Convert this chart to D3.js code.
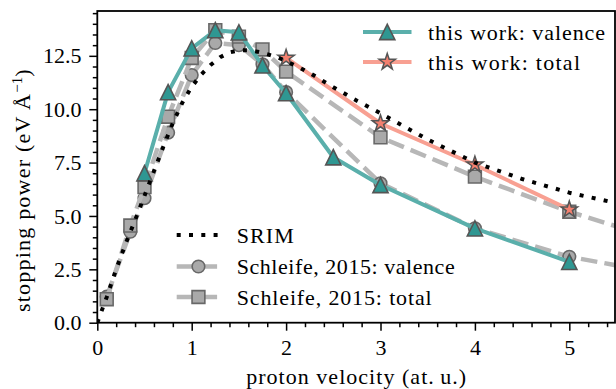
<!DOCTYPE html>
<html>
<head>
<meta charset="utf-8">
<script src="https://cdn.jsdelivr.net/npm/d3@7"></script>
<style>
  body { margin: 0; background: #fff; }
  svg { display: block; }
</style>
</head>
<body>
<svg id="chart" width="616" height="389"></svg>
<script>
// Proton velocity (at. u.) and electronic stopping power (eV/Å)
const workV = [0.5, 0.75, 1.0, 1.25, 1.5, 1.75, 2.0, 2.5, 3.0, 4.0, 5.0];
const workValence = [7.0, 10.8, 12.85, 13.7, 13.6, 12.05, 10.75, 7.75, 6.45, 4.42, 2.85];
const workTotalV = [2.0, 3.0, 4.0, 5.0];
const workTotal = [12.4, 9.33, 7.4, 5.3];
const schleifeV = [0.1, 0.35, 0.5, 0.75, 1.0, 1.25, 1.5, 1.75, 2.0, 3.0, 4.0, 5.0, 6.0];
const schleifeValence = [1.22, 4.26, 5.83, 8.9, 11.6, 13.1, 13.0, 12.1, 10.8, 6.53, 4.42, 3.09, 2.28];
const schleifeTotal = [1.1, 4.55, 6.35, 9.65, 12.4, 13.7, 13.4, 12.8, 11.76, 8.68, 6.84, 5.2, 3.82];
const srimV = [0, 0.1, 0.2, 0.3, 0.4, 0.5, 0.6, 0.7, 0.8, 0.9, 1.0, 1.1, 1.2, 1.3, 1.4, 1.5,
               1.6, 1.7, 1.8, 1.9, 2.0, 2.25, 2.5, 2.75, 3.0, 3.5, 4.0, 4.5, 5.0, 5.5];
const srimS = [0, 1.2, 2.5, 3.7, 4.8, 5.95, 7.1, 8.25, 9.35, 10.3, 11.05, 11.62, 12.07, 12.43, 12.66, 12.76,
               12.76, 12.69, 12.58, 12.44, 12.26, 11.7, 11.03, 10.4, 9.81, 8.58, 7.5, 6.73, 6.09, 5.6];
const xTickValues = [0, 1, 2, 3, 4, 5];
const yTickValues = [0, 2.5, 5, 7.5, 10, 12.5];

const FONT = '"Liberation Serif", "Tinos", "Times New Roman", serif';
const svg = d3.select("#chart");
const m = { left: 97.3, right: 615, top: 11, bottom: 322.7 };

const x = d3.scaleLinear().domain([0, 5.484]).range([m.left, m.right]);
const y = d3.scaleLinear().domain([0, 14.6]).range([m.bottom, m.top]);

const colors = {
  teal: "#5aafab", tealFace: "#2f9792",
  salmon: "#f8a092", salmonFace: "#f4806f",
  gray: "#b7b7b7", grayFace: "#a9a9a9", grayEdge: "#686868",
  edge: "#555555"
};

svg.append("defs").append("clipPath").attr("id", "plotClip")
  .append("rect")
  .attr("x", m.left).attr("y", m.top)
  .attr("width", m.right - m.left).attr("height", m.bottom - m.top);

// marker shapes
const triPath = r => `M0,${-r}L${-r},${r}L${r},${r}Z`;
function starPath(R) {
  const pts = [];
  for (let i = 0; i < 10; i++) {
    const rr = i % 2 === 0 ? R : R * 0.382;
    const a = -Math.PI / 2 + i * Math.PI / 5;
    pts.push([rr * Math.cos(a), rr * Math.sin(a)]);
  }
  return "M" + pts.map(p => p.join(",")).join("L") + "Z";
}
const sqPath = s => `M${-s},${-s}H${s}V${s}H${-s}Z`;
const circPath = r => `M${r},0A${r},${r} 0 1,1 ${-r},0A${r},${r} 0 1,1 ${r},0Z`;

const series = {
  schleifeVal: { line: { stroke: colors.gray, width: 4.5, dash: "16.6,7.2" },
                 marker: { d: circPath(6.3), fill: colors.grayFace, stroke: colors.grayEdge, sw: 1.6 } },
  schleifeTot: { line: { stroke: colors.gray, width: 4.5, dash: "16.6,7.2" },
                 marker: { d: sqPath(6.4), fill: colors.grayFace, stroke: colors.grayEdge, sw: 1.6 } },
  workVal: { line: { stroke: colors.teal, width: 4, dash: null },
             marker: { d: triPath(7.6), fill: colors.tealFace, stroke: colors.edge, sw: 1.6 } },
  workTot: { line: { stroke: colors.salmon, width: 4, dash: null },
             marker: { d: starPath(8.6), fill: colors.salmonFace, stroke: colors.edge, sw: 1.5 } },
  srim: { line: { stroke: "#000", width: 4, dash: "4,8.3" }, marker: null }
};

const plot = svg.append("g").attr("clip-path", "url(#plotClip)");
const lineGen = d3.line().x(d => x(d[0])).y(d => y(d[1]));

function drawSeries(xs, ys, st) {
  const pts = xs.map((v, i) => [v, ys[i]]);
  plot.append("path")
    .attr("d", lineGen(pts))
    .attr("fill", "none")
    .attr("stroke", st.line.stroke)
    .attr("stroke-width", st.line.width)
    .attr("stroke-dasharray", st.line.dash)
    .attr("stroke-linejoin", "round");
  if (st.marker) {
    plot.append("g").selectAll("path").data(pts).join("path")
      .attr("transform", d => `translate(${x(d[0])},${y(d[1])})`)
      .attr("d", st.marker.d)
      .attr("fill", st.marker.fill)
      .attr("stroke", st.marker.stroke)
      .attr("stroke-width", st.marker.sw)
      .attr("stroke-linejoin", "miter");
  }
}

drawSeries(schleifeV, schleifeValence, series.schleifeVal);
drawSeries(schleifeV, schleifeTotal, series.schleifeTot);
drawSeries(workV, workValence, series.workVal);
drawSeries(workTotalV, workTotal, series.workTot);
drawSeries(srimV, srimS, series.srim);

// axes
const fmtY = d3.format(".1f");
const xAxis = svg.append("g").attr("transform", `translate(0,${m.bottom})`)
  .call(d3.axisBottom(x).tickValues(xTickValues).tickFormat(d3.format("d"))
        .tickSize(8).tickSizeOuter(0).tickPadding(8.7));
const xMinor = svg.append("g").attr("transform", `translate(0,${m.bottom})`)
  .call(d3.axisBottom(x).tickValues(d3.range(0.2, 5.45, 0.2).filter(v => Math.abs(v - Math.round(v)) > 1e-6))
        .tickFormat("").tickSize(4.5).tickSizeOuter(0));
const yAxis = svg.append("g").attr("transform", `translate(${m.left},0)`)
  .call(d3.axisLeft(y).tickValues(yTickValues).tickFormat(fmtY)
        .tickSize(8).tickSizeOuter(0).tickPadding(7.8));
const yMinor = svg.append("g").attr("transform", `translate(${m.left},0)`)
  .call(d3.axisLeft(y).tickValues(d3.range(0.5, 14.6, 0.5).filter(v => Math.abs(v / 2.5 - Math.round(v / 2.5)) > 1e-6))
        .tickFormat("").tickSize(4.5).tickSizeOuter(0));

[xAxis, xMinor, yAxis, yMinor].forEach(g => {
  g.attr("font-family", null).attr("font-size", null);
  g.select(".domain").remove();
  g.selectAll(".tick line").attr("stroke", "#000").attr("stroke-width", 1.5);
  g.selectAll(".tick text").attr("fill", "#000")
    .style("font-family", FONT).style("font-size", "22px");
});

// frame
svg.append("rect")
  .attr("x", m.left).attr("y", m.top)
  .attr("width", m.right - m.left).attr("height", m.bottom - m.top)
  .attr("fill", "none").attr("stroke", "#000").attr("stroke-width", 1.8);

// axis titles
svg.append("text")
  .attr("x", (m.left + m.right) / 2).attr("y", 384)
  .attr("text-anchor", "middle")
  .style("font-family", FONT).style("font-size", "22px")
  .attr("textLength", 220).attr("lengthAdjust", "spacing")
  .text("proton velocity (at.\u2009u.)");

const yl = svg.append("text")
  .attr("transform", "translate(29.5,312) rotate(-90)")
  .style("font-family", FONT).style("font-size", "22px");
yl.append("tspan").attr("textLength", 218).attr("lengthAdjust", "spacing").text("stopping power (eV\u2009Å");
yl.append("tspan").style("font-size", "15px").attr("dy", -8).text("\u22121");
yl.append("tspan").attr("dy", 8).text(")");

// legends
function legendRow(g, cy, x0, x1, st, label, len) {
  g.append("line")
    .attr("x1", x0).attr("x2", x1).attr("y1", cy).attr("y2", cy)
    .attr("stroke", st.line.stroke).attr("stroke-width", st.line.width)
    .attr("stroke-dasharray", st.line.dash);
  if (st.marker) {
    g.append("path")
      .attr("transform", `translate(${(x0 + x1) / 2},${cy})`)
      .attr("d", st.marker.d)
      .attr("fill", st.marker.fill).attr("stroke", st.marker.stroke)
      .attr("stroke-width", st.marker.sw);
  }
  g.append("text")
    .attr("x", x1 + 16.5).attr("y", cy + 7.5)
    .style("font-family", FONT).style("font-size", "22px")
    .attr("textLength", len).attr("lengthAdjust", "spacing")
    .text(label);
}

const legendTop = svg.append("g");
legendRow(legendTop, 32, 363, 411.5, series.workVal, "this work: valence", 177);
legendRow(legendTop, 62, 363, 411.5, series.workTot, "this work: total", 152);

const legendBottom = svg.append("g");
legendRow(legendBottom, 235, 176.7, 220.2, series.srim, "SRIM", 57);
legendRow(legendBottom, 266.5, 176.7, 220.2, series.schleifeVal, "Schleife, 2015: valence", 218);
legendRow(legendBottom, 297, 176.7, 220.2, series.schleifeTot, "Schleife, 2015: total", 195);
</script>
</body>
</html>
